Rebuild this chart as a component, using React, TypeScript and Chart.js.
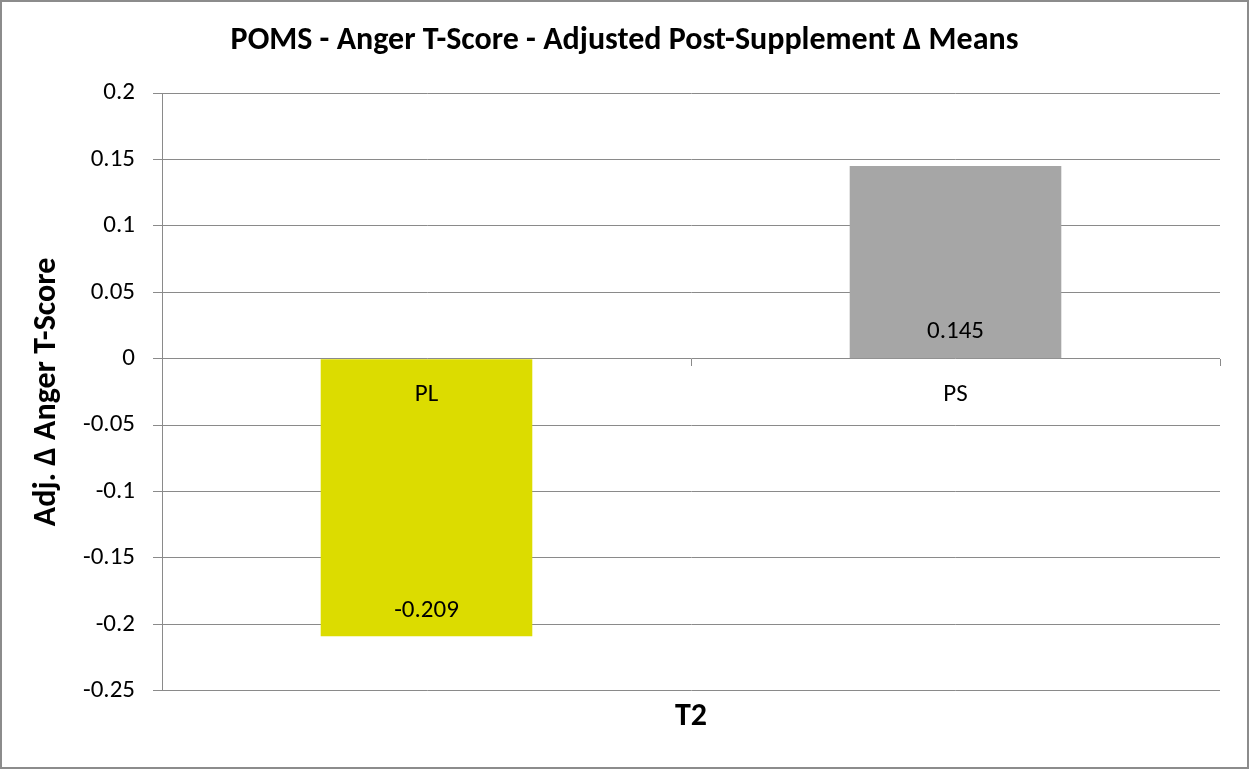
import React, { useEffect, useRef } from "react";
import { Chart, registerables } from "chart.js";

Chart.register(...registerables);

const categories = ["PL", "PS"];
const values = [-0.209, 0.145];
const barColors = ["#DCDC00", "#A6A6A6"];
const valueLabels = ["-0.209", "0.145"];
const yMin = -0.25;
const yMax = 0.2;
const yStep = 0.05;

const FONT = "Carlito, Lato, sans-serif";
const GRID = "#8A8A8A";

const borderPlugin = {
  id: "outerBorder",
  afterDraw(chart: any) {
    const { ctx, width, height } = chart;
    ctx.save();
    ctx.strokeStyle = "#8C8C8C";
    ctx.lineWidth = 2;
    ctx.strokeRect(1, 1, width - 2, height - 2);
    ctx.restore();
  },
};

const valueLabelPlugin = {
  id: "valueLabels",
  afterDatasetsDraw(chart: any) {
    const { ctx } = chart;
    const meta = chart.getDatasetMeta(0);
    ctx.save();
    ctx.font = `25px ${FONT}`;
    ctx.fillStyle = "#000";
    ctx.textAlign = "center";
    ctx.textBaseline = "middle";
    meta.data.forEach((bar: any, i: number) => {
      const lower = Math.max(bar.y, bar.base);
      ctx.fillText(valueLabels[i], bar.x, lower - 26);
    });
    ctx.restore();
  },
};

export default function App() {
  const ref = useRef<HTMLCanvasElement>(null);
  useEffect(() => {
    document.body.style.margin = "0";
    const chart = new Chart(ref.current!, {
      type: "bar",
      data: {
        labels: categories,
        datasets: [
          {
            data: values,
            backgroundColor: barColors,
            borderWidth: 0,
            barPercentage: 0.4,
            categoryPercentage: 1,
          },
        ],
      },
      options: {
        responsive: false,
        animation: false,
        layout: { padding: { left: 0, right: 0, top: 0, bottom: 23 } },
        plugins: {
          legend: { display: false },
          tooltip: { enabled: false },
          title: {
            display: true,
            text: "POMS - Anger T-Score - Adjusted Post-Supplement Δ Means",
            font: { family: FONT, size: 32, weight: "bold" },
            color: "#000",
            padding: { top: 21.8, bottom: 32.8 },
          },
          subtitle: {
            display: true,
            position: "bottom",
            fullSize: false,
            text: "T2",
            font: { family: FONT, size: 32, weight: "bold" },
            color: "#000",
            padding: { top: 6.8, bottom: 10 },
          },
        },
        scales: {
          x: {
            position: { y: 0 },
            offset: true,
            grid: {
              offset: true,
              drawOnChartArea: false,
              drawTicks: true,
              tickLength: 7,
              color: GRID,
            },
            border: { display: false },
            ticks: {
              z: 1,
              font: { family: FONT, size: 25 },
              color: "#000",
              padding: 14,
            },
          },
          y: {
            min: yMin,
            max: yMax,
            afterFit(scale: any) {
              scale.width = 162;
            },
            ticks: {
              stepSize: yStep,
              font: { family: FONT, size: 25 },
              color: "#000",
              padding: 18,
              callback: (v: any) => String(Math.round(Number(v) * 100) / 100),
            },
            grid: { color: GRID, tickLength: 9 },
            border: { display: true, color: GRID },
            title: {
              display: true,
              text: "Adj. Δ Anger T-Score",
              font: { family: FONT, size: 32, weight: "bold" },
              color: "#000",
              padding: { top: 27.8 },
            },
          },
          yRight: {
            position: "right",
            min: yMin,
            max: yMax,
            afterFit(scale: any) {
              scale.width = 29;
            },
            ticks: { display: false },
            grid: { display: false, drawOnChartArea: false, drawTicks: false },
            border: { display: false },
          },
        },
      },
      plugins: [borderPlugin, valueLabelPlugin],
    } as any);
    return () => chart.destroy();
  }, []);
  return (
    <div style={{ width: 1249, height: 769 }}>
      <canvas ref={ref} width={1249} height={769} />
    </div>
  );
}
